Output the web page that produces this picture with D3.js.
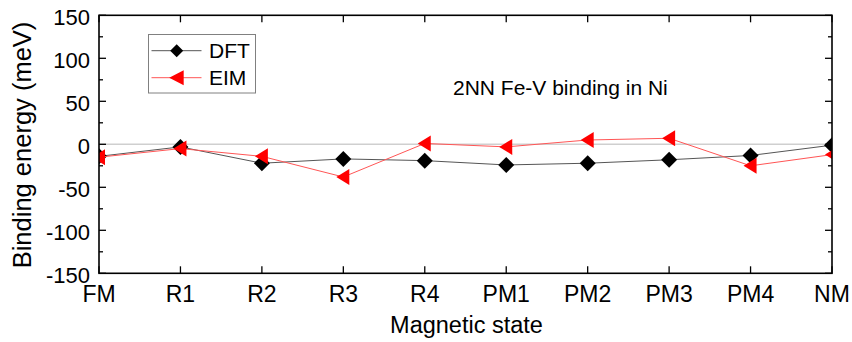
<!DOCTYPE html>
<html>
<head>
<meta charset="utf-8">
<script src="https://cdn.jsdelivr.net/npm/d3@7"></script>
<style>
  html, body { margin: 0; padding: 0; background: #fff; }
  svg { display: block; font-family: "Liberation Sans", Arial, sans-serif; }
</style>
</head>
<body>
<svg id="chart" width="852" height="342"></svg>
<script>
const categories = ["FM", "R1", "R2", "R3", "R4", "PM1", "PM2", "PM3", "PM4", "NM"];
const dftValues = [-14, -3, -22, -17, -19, -24, -22, -18, -13, -1];
const eimValues = [-15, -5, -14, -38, 1, -3, 5, 7, -25, -12];
const yTicks = [-150, -100, -50, 0, 50, 100, 150];
const yMinorTicks = [-125, -75, -25, 25, 75, 125];
const seriesNames = ["DFT", "EIM"];
const annotation = "2NN Fe-V binding in Ni";
const xTitle = "Magnetic state";
const yTitle = "Binding energy (meV)";

const svg = d3.select("#chart");
const L = 99, R = 832, T = 15.3, B = 273.3;

const x = d3.scalePoint().domain(categories).range([L, R]);
const y = d3.scaleLinear().domain([-150, 150]).range([B, T]);

svg.append("defs").append("clipPath").attr("id", "plotclip")
  .append("rect").attr("x", L).attr("y", T).attr("width", R - L).attr("height", B - T);

// zero line
svg.append("line")
  .attr("x1", L).attr("x2", R).attr("y1", y(0)).attr("y2", y(0))
  .attr("stroke", "#cfcfcf").attr("stroke-width", 1.5);

const plot = svg.append("g").attr("clip-path", "url(#plotclip)");

const line = d3.line().x((d, i) => x(categories[i])).y(d => y(d));

const diamond = "M0,-8L8,0L0,8L-8,0Z";
const triangle = "M-7,0L6,-8L6,8Z";

// DFT
plot.append("path").datum(dftValues).attr("d", line)
  .attr("fill", "none").attr("stroke", "#555").attr("stroke-width", 1);
plot.selectAll(".dft").data(dftValues).enter().append("path")
  .attr("d", diamond)
  .attr("transform", (d, i) => `translate(${x(categories[i])},${y(d)})`)
  .attr("fill", "#000");

// EIM
plot.append("path").datum(eimValues).attr("d", line)
  .attr("fill", "none").attr("stroke", "#ff5555").attr("stroke-width", 1);
plot.selectAll(".eim").data(eimValues).enter().append("path")
  .attr("d", triangle)
  .attr("transform", (d, i) => `translate(${x(categories[i])},${y(d)})`)
  .attr("fill", "#ff0000");

// Axes
const axStroke = "#000";
const frame = svg.append("g");
frame.append("rect").attr("x", L).attr("y", T).attr("width", R - L).attr("height", B - T)
  .attr("fill", "none").attr("stroke", axStroke).attr("stroke-width", 1.6);

const majorLen = 7, minorLen = 4;
// left & right y ticks
yTicks.forEach(v => {
  frame.append("line").attr("x1", L).attr("x2", L + majorLen).attr("y1", y(v)).attr("y2", y(v)).attr("stroke", axStroke).attr("stroke-width", 1.3);
  frame.append("line").attr("x1", R).attr("x2", R - majorLen).attr("y1", y(v)).attr("y2", y(v)).attr("stroke", axStroke).attr("stroke-width", 1.3);
});
yMinorTicks.forEach(v => {
  frame.append("line").attr("x1", L).attr("x2", L + minorLen).attr("y1", y(v)).attr("y2", y(v)).attr("stroke", axStroke).attr("stroke-width", 1.3);
  frame.append("line").attr("x1", R).attr("x2", R - minorLen).attr("y1", y(v)).attr("y2", y(v)).attr("stroke", axStroke).attr("stroke-width", 1.3);
});
categories.forEach(c => {
  frame.append("line").attr("x1", x(c)).attr("x2", x(c)).attr("y1", B).attr("y2", B - majorLen).attr("stroke", axStroke).attr("stroke-width", 1.3);
  frame.append("line").attr("x1", x(c)).attr("x2", x(c)).attr("y1", T).attr("y2", T + majorLen).attr("stroke", axStroke).attr("stroke-width", 1.3);
});

// Tick labels
svg.append("g").selectAll("text").data(yTicks).enter().append("text")
  .attr("x", 90).attr("y", d => y(d) + 9.5)
  .attr("text-anchor", "end").attr("font-size", 22).attr("fill", "#000")
  .text(d => String(d));

svg.append("g").selectAll("text").data(categories).enter().append("text")
  .attr("x", d => x(d)).attr("y", 301.5)
  .attr("text-anchor", "middle").attr("font-size", 23).attr("fill", "#000")
  .text(d => d);

// Axis titles
svg.append("text").attr("x", 466.5).attr("y", 333.3)
  .attr("text-anchor", "middle").attr("font-size", 23.5).attr("fill", "#000")
  .text(xTitle);
svg.append("text")
  .attr("transform", `translate(30.5,145) rotate(-90)`)
  .attr("text-anchor", "middle").attr("font-size", 25.5).attr("fill", "#000")
  .text(yTitle);

// Annotation
svg.append("text").attr("x", 453).attr("y", 95)
  .attr("font-size", 21).attr("fill", "#000").text(annotation);

// Legend
const lg = svg.append("g");
lg.append("rect").attr("x", 148.5).attr("y", 34.5).attr("width", 107).attr("height", 58.5)
  .attr("fill", "#fff").attr("stroke", "#808080").attr("stroke-width", 1);
const legendRows = [
  {name: seriesNames[0], cy: 50.7, stroke: "#555", fill: "#000", shape: "M0,-6.5L6.5,0L0,6.5L-6.5,0Z"},
  {name: seriesNames[1], cy: 77.7, stroke: "#ff5555", fill: "#ff0000", shape: "M-7.5,0L7,-7.5L7,7.5Z"}
];
legendRows.forEach(r => {
  lg.append("line").attr("x1", 151.5).attr("x2", 201.5).attr("y1", r.cy).attr("y2", r.cy)
    .attr("stroke", r.stroke).attr("stroke-width", 1);
  lg.append("path").attr("d", r.shape).attr("transform", `translate(176.7,${r.cy})`).attr("fill", r.fill);
  lg.append("text").attr("x", 209).attr("y", r.cy + 7.6).attr("font-size", 21).attr("fill", "#000").text(r.name);
});
</script>
</body>
</html>
